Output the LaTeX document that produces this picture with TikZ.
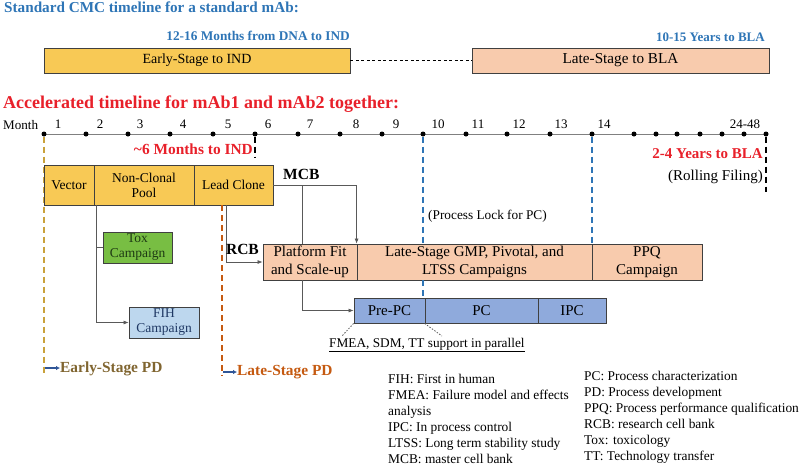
\documentclass[tikz,border=0pt]{standalone}
\usepackage{fontspec}
\setmainfont{Liberation Serif}
\usetikzlibrary{arrows.meta}
\newcommand\fsz[2]{\fontsize{#1}{#2}\selectfont}
\definecolor{tblue}{HTML}{2E75B6}
\definecolor{tred}{HTML}{E8202A}
\definecolor{yfill}{HTML}{F8C955}
\definecolor{pfill}{HTML}{F8CBAD}
\definecolor{gfill}{HTML}{78BE43}
\definecolor{lbfill}{HTML}{BDD7EE}
\definecolor{mbfill}{HTML}{8FAADC}
\definecolor{boxline}{HTML}{404040}
\definecolor{golddash}{HTML}{C9A23C}
\definecolor{orgdash}{HTML}{C55A11}
\definecolor{epdcol}{HTML}{806530}
\definecolor{arrblue}{HTML}{2F5597}
\definecolor{connc}{HTML}{595959}
\definecolor{tlc}{HTML}{808080}
\definecolor{toxtext}{HTML}{1E3A14}
\definecolor{fihtext}{HTML}{1F3864}
\begin{document}
\begin{tikzpicture}[x=1pt,y=-1pt,
  fbox/.style={draw=boxline, line width=0.8pt, inner sep=0pt, align=center, text=black},
  ybox/.style={fbox, fill=yfill, minimum height=40pt, font=\fsz{13.5}{15}},
  pbox/.style={fbox, fill=pfill, minimum height=36pt, font=\fsz{15}{18}},
  bbox/.style={fbox, fill=mbfill, minimum height=25pt, font=\fsz{15}{18}},
  sbox/.style={fbox, minimum height=31pt, font=\fsz{13.5}{15}},
  conn/.style={draw=connc, line width=0.7pt},
  arr/.style={conn, -{Latex[length=5pt,width=4pt]}},
  tdot/.style={circle, fill=black, inner sep=0pt, minimum size=5pt},
  mlab/.style={anchor=base, inner sep=0pt, font=\fsz{13}{15}},
  dashbase/.style={line width=1.8pt, dash pattern=on 6pt off 4pt},
  golddashed/.style={dashbase, draw=golddash},
  orgdashed/.style={dashbase, draw=orgdash},
  bluedashed/.style={dashbase, draw=tblue},
  blkdashed/.style={dashbase, draw=black},
  pdarr/.style={draw=arrblue, line width=1.5pt, -{Latex[length=4pt,width=4.5pt]}},
  txt/.style={inner sep=0pt},
  legend/.style={inner sep=0pt, align=left, font=\fsz{13.4}{16}},
]
\useasboundingbox (0,0) rectangle (800,467);

% titles
\node[txt, anchor=base west, text=tblue, font=\fsz{15.2}{17}\bfseries] (t1) at (4,12.5) {Standard CMC timeline for a standard mAb:};
\node[txt, anchor=base east, text=tblue, font=\fsz{13.3}{15}\bfseries] (t1a) at (350,40) {12-16 Months from DNA to IND};
\node[txt, anchor=base east, text=tblue, font=\fsz{13}{15}\bfseries] (t1b) at (765,41) {10-15 Years to BLA};

% standard bars
\node[fbox, fill=yfill, minimum width=306, minimum height=25, font=\fsz{14}{16}] (early) at (197,60.5) {Early-Stage to IND};
\node[fbox, fill=pfill, minimum width=297, minimum height=25, font=\fsz{15.2}{17}] (late) at (620.5,60.5) {Late-Stage to BLA};
\draw[draw=black, line width=0.8pt, dash pattern=on 3pt off 2.5pt] (early.east) -- (late.west);

\node[txt, anchor=base west, text=tred, font=\fsz{18}{20}\bfseries] (t2) at (3,108) {Accelerated timeline for mAb1 and mAb2 together:};

% timeline
\node[txt, anchor=base west, font=\fsz{13.1}{15}] (month) at (3,129) {Month};
\coordinate (tlA) at (44,134);
\coordinate (tlB) at (768,134);
\draw[draw=tlc, line width=1pt] (tlA) -- (tlB);
\foreach \i/\x in {1/44,2/86,3/128,4/170,5/213,6/255,7/298,8/340,9/382,10/423,11/466,12/507,13/550,14/592,15/634,16/656,17/677,18/700,19/722,20/744,21/766}
  \node[tdot] (d\i) at (\x,134) {};
\foreach \i/\x in {1/58,2/100,3/140,4/183,5/228,6/268,7/310,8/356,9/396,10/438,11/478,12/519,13/561,14/604}
  \node[mlab] (m\i) at (\x,128.5) {\i};
\node[mlab] (m24) at (745,128.5) {24-48};

% dashed markers behind boxes
\coordinate (epdend) at (44,376);
\draw[golddashed] (d1.south) -- (epdend);
\coordinate (indend) at (255,158);
\draw[blkdashed] (d6.south) -- (indend);
\coordinate (blaend) at (766,192);
\draw[blkdashed] (d21.south) -- (blaend);

\node[txt, anchor=base east, text=tred, font=\fsz{15.4}{17}\bfseries] (ind6) at (253,154) {\textasciitilde6 Months to IND};
\node[txt, anchor=base east, text=tred, font=\fsz{15}{17}\bfseries] (bla24) at (763,158) {2-4 Years to BLA};
\node[txt, anchor=base east, font=\fsz{15}{17}] (rolling) at (763,180) {(Rolling Filing)};

% yellow row
\node[ybox, minimum width=50] (vec) at (69,185) {Vector};
\node[ybox, minimum width=100] (ncp) at (144,185) {Non-Clonal\\Pool};
\node[ybox, minimum width=79] (lead) at (233.5,185) {Lead Clone};

% side boxes
\node[sbox, fill=gfill, text=toxtext, minimum width=69] (tox) at (137.5,247.5) {Tox\\Campaign};
\node[sbox, fill=lbfill, text=fihtext, minimum width=70] (fih) at (164,322.5) {FIH\\Campaign};

% orange row
\node[pbox, minimum width=94] (plat) at (310,262) {Platform Fit\\and Scale-up};
\node[pbox, minimum width=235] (gmp) at (474.5,262) {Late-Stage GMP, Pivotal, and\\LTSS Campaigns};
\node[pbox, minimum width=110] (ppq) at (647,262) {PPQ\\Campaign};

% blue row
\node[bbox, minimum width=71] (prepc) at (389.5,310.5) {Pre-PC};
\node[bbox, minimum width=113] (pc) at (481.5,310.5) {PC};
\node[bbox, minimum width=68] (ipc) at (572,310.5) {IPC};

% blue dashed process lock lines
\draw[bluedashed] (d10.south) -- (d10 |- gmp.north);
\draw[bluedashed] (d10 |- gmp.south) -- (d10 |- pc.north);
\draw[bluedashed] (d14.south) -- (d14 |- ppq.north);
\node[txt, anchor=base west, font=\fsz{13.3}{15}] (lock) at (428,219) {(Process Lock for PC)};

% late-stage PD dashed
\coordinate (lpdend) at (222,376);
\draw[orgdashed] (lpdend |- lead.south) -- (lpdend);

% connectors
\coordinate (ncpdrop) at (96,205);
\draw[arr] (ncpdrop) |- (fih.west);
\draw[conn] (ncpdrop |- tox.west) -- (tox.west);

\coordinate (rcbdrop) at (226,205);
\draw[arr] (rcbdrop) |- (plat.west);
\node[txt, anchor=base east, font=\fsz{15.5}{17}\bfseries] (rcb) at (259,254) {RCB};

\draw[arr] (lead.east) -| (gmp.north west);
\coordinate (mcbsplit) at (302,185);
\draw[conn] (mcbsplit) -- (mcbsplit |- plat.north);
\draw[arr] (mcbsplit |- plat.south) |- (prepc.west);
\node[txt, anchor=base west, font=\fsz{15.5}{17}\bfseries] (mcb) at (283,179) {MCB};

% FMEA note
\node[txt, anchor=base west, font=\fsz{13.3}{15}] (fmea) at (329,347) {\underline{FMEA, SDM, TT support in parallel}};
\coordinate (fm1) at (342,336);
\coordinate (fm2) at (442,336);
\draw[draw=connc, line width=0.8pt, dash pattern=on 1.5pt off 1.5pt] (prepc.south west) -- (fm1);
\draw[draw=connc, line width=0.8pt, dash pattern=on 1.5pt off 1.5pt] (pc.south west) -- (fm2);

% PD labels
\node[txt, anchor=base west, text=epdcol, font=\fsz{15.4}{17}\bfseries] (epdl) at (60,372) {Early-Stage PD};
\coordinate (epda) at (45,368);
\draw[pdarr] (epda) -- (epda -| epdl.west);
\node[txt, anchor=base west, text=orgdash, font=\fsz{15.4}{17}\bfseries] (lpdl) at (237,375) {Late-Stage PD};
\coordinate (lpda) at (223,372);
\draw[pdarr] (lpda) -- (lpda -| lpdl.west);

% legend
\node[legend, anchor=north west] (legL) at (388,374) {FIH: First in human\\FMEA: Failure model and effects\\analysis\\IPC: In process control\\LTSS: Long term stability study\\MCB: master cell bank};
\node[legend, anchor=north west] (legR) at (584,371) {PC: Process characterization\\PD: Process development\\PPQ: Process performance qualification\\RCB: research cell bank\\Tox: toxicology\\TT: Technology transfer};
\end{tikzpicture}
\end{document}
